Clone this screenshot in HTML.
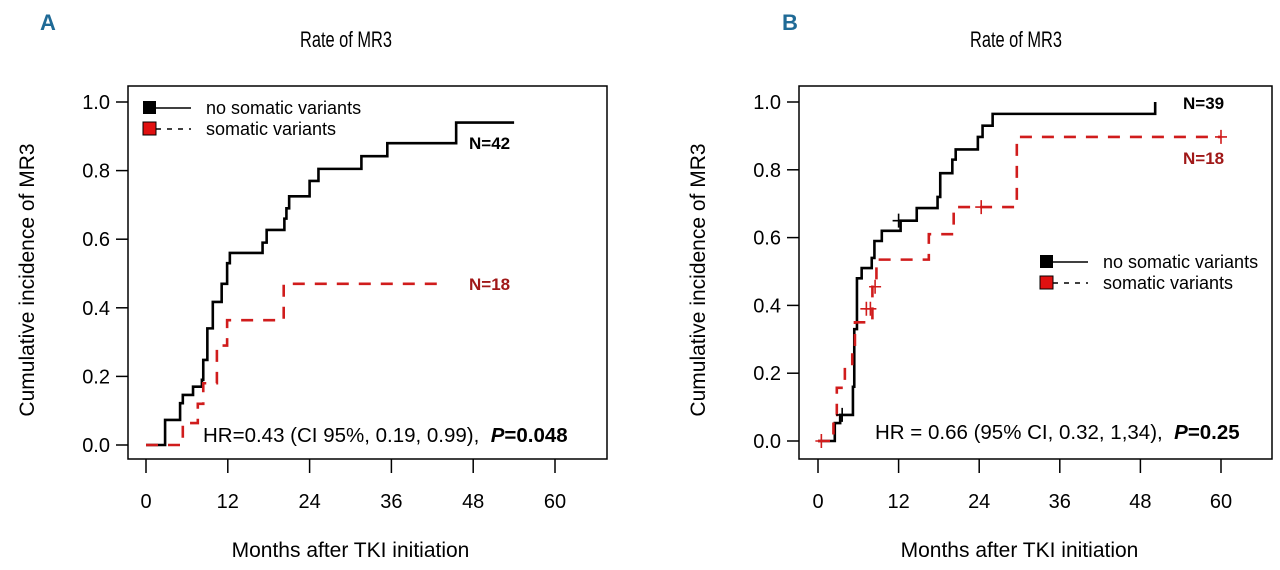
<!DOCTYPE html>
<html><head><meta charset="utf-8"><style>
body{margin:0;background:#fff;}
svg{display:block;font-family:"Liberation Sans",sans-serif;}
</style></head><body>
<svg id="fig" width="1280" height="570" viewBox="0 0 1280 570"></svg>
<script>
// Panel A data
const aBlackT=[0,2.8,5.0,5.4,6.9,8.2,8.4,9.0,9.8,11.1,11.9,12.3,17.1,17.7,20.3,20.6,21.0,24.0,25.3,31.6,35.4,45.5,54];
const aBlackV=[0,0.073,0.122,0.146,0.17,0.19,0.248,0.34,0.417,0.47,0.53,0.56,0.59,0.627,0.66,0.69,0.725,0.77,0.805,0.842,0.88,0.94,0.94];
const aRedT=[0,5.4,7.6,8.4,10.4,11.9,20.2,43.5];
const aRedV=[0,0.064,0.12,0.18,0.29,0.364,0.47,0.47];
// Panel B data
const bBlackT=[0,2.5,3.3,5.2,5.4,5.8,6.5,8.0,8.4,9.5,12.3,14.7,17.8,18.2,20.0,20.5,23.8,24.5,26.0,50.2];
const bBlackV=[0,0.053,0.077,0.16,0.33,0.48,0.51,0.54,0.59,0.62,0.65,0.687,0.72,0.79,0.83,0.86,0.897,0.93,0.965,1.0];
const bBlackCensorT=[3.6,12.0];
const bBlackCensorV=[0.077,0.65];
const bRedT=[0,2.3,2.8,4.0,5.1,5.5,8.1,8.7,16.5,20.2,29.6,60];
const bRedV=[0,0.077,0.157,0.22,0.28,0.35,0.455,0.535,0.61,0.69,0.897,0.897];
const bRedCensorT=[0.5,7.2,7.8,8.5,24.3,60];
const bRedCensorV=[0,0.39,0.39,0.455,0.69,0.897];
const xTicks=[0,12,24,36,48,60];
const yTicks=[0,0.2,0.4,0.6,0.8,1.0];

const NS="http://www.w3.org/2000/svg";
const svg=document.getElementById('fig');
function el(tag,attrs,parent){const e=document.createElementNS(NS,tag);for(const k in attrs)e.setAttribute(k,attrs[k]);(parent||svg).appendChild(e);return e;}
function txt(s,attrs,parent){const e=el('text',attrs,parent);e.textContent=s;return e;}

function panel(cfg){
  const g=el('g',{});
  
  
  const X=t=>cfg.x0+(t/60)*(cfg.x60-cfg.x0);
  const Y=v=>cfg.y0+v*(cfg.y1-cfg.y0);
  const box=el('rect',{x:cfg.bl,y:86,width:cfg.br-cfg.bl,height:459-86,fill:'none',stroke:'#000','stroke-width':1.5},g);
  
  
  xTicks.forEach(t=>{
    el('line',{x1:X(t),x2:X(t),y1:459,y2:473,stroke:'#000','stroke-width':1.5},g);
    const l=txt(String(t),{x:X(t),y:508,'font-size':20,'text-anchor':'middle'},g);
    
    
  });
  yTicks.forEach(v=>{
    el('line',{x1:cfg.bl-12,x2:cfg.bl,y1:Y(v),y2:Y(v),stroke:'#000','stroke-width':1.5},g);
    const l=txt(v.toFixed(1),{x:cfg.bl-18,y:Y(v)+7,'font-size':20,'text-anchor':'end'},g);
    
    
  });
  const xt=txt('Months after TKI initiation',{x:(cfg.x0+cfg.x60)/2,y:557,'font-size':21,'text-anchor':'middle'},g);
  
  
  const yx=cfg.bl-94;
  const yt=txt('Cumulative incidence of MR3',{x:yx,y:280,'font-size':21,'text-anchor':'middle',transform:`rotate(-90 ${yx} 280)`},g);
  
  
  const tt=txt('Rate of MR3',{x:cfg.titleX-46,y:47,'font-size':22,textLength:92,lengthAdjust:'spacingAndGlyphs'},g);
  
  
  const pl=txt(cfg.letter,{x:cfg.letterX,y:30,'font-size':22,'font-weight':'bold',fill:'#1f6a96'},g);
  
  
  function step(T,V,color,dash,name){
    let d=`M${X(T[0])},${Y(V[0])}`;
    for(let i=1;i<T.length;i++){d+=` H${X(T[i])} V${Y(V[i])}`;}
    const p=el('path',{d:d,fill:'none',stroke:color,'stroke-width':2.6,'stroke-dasharray':dash},g);
    
    
  }
  function censor(T,V,color,name){
    T.forEach((t,i)=>{
      const c=el('path',{d:`M${X(t)-6},${Y(V[i])} H${X(t)+6} M${X(t)},${Y(V[i])-7} V${Y(V[i])+7}`,stroke:color,'stroke-width':1.6},g);
      
      
    });
  }
  step(cfg.bT,cfg.bV,'#000','','no-variants-curve');
  step(cfg.rT,cfg.rV,'#d01c1c','12 10','variants-curve');
  if(cfg.bcT)censor(cfg.bcT,cfg.bcV,'#000','no-variants-censor');
  if(cfg.rcT)censor(cfg.rcT,cfg.rcV,'#d01c1c','variants-censor');
  const lg=el('g',{},g);
  
  
  const lx=cfg.legX,ly=cfg.legY;
  el('line',{x1:lx,x2:lx+48,y1:ly,y2:ly,stroke:'#000','stroke-width':1.5},lg);
  el('rect',{x:lx,y:ly-7,width:13,height:13,fill:'#000'},lg);
  txt('no somatic variants',{x:lx+63,y:ly+6,'font-size':18},lg);
  el('line',{x1:lx+13,x2:lx+48,y1:ly+21,y2:ly+21,stroke:'#000','stroke-width':1.5,'stroke-dasharray':'5 6'},lg);
  el('rect',{x:lx,y:ly+14,width:13,height:13,fill:'#e01010',stroke:'#000','stroke-width':1},lg);
  txt('somatic variants',{x:lx+63,y:ly+27,'font-size':18},lg);
  const n1=txt(cfg.n1,{x:cfg.n1x,y:cfg.n1y,'font-size':17,'font-weight':'bold'},g);
  
  
  const n2=txt(cfg.n2,{x:cfg.n2x,y:cfg.n2y,'font-size':17,'font-weight':'bold',fill:'#a01818'},g);
  
  
  const hr=el('text',{x:cfg.hrX,y:cfg.hrY,'font-size':20.5},g);
  
  
  hr.innerHTML=cfg.hr+'<tspan font-weight="bold" font-style="italic">P</tspan><tspan font-weight="bold">'+cfg.p+'</tspan>';
}
panel({name:'panel-a',letter:'A',letterX:40,titleX:346,x0:146,x60:555,y0:445,y1:102,bl:128,br:607,
 bT:aBlackT,bV:aBlackV,rT:aRedT,rV:aRedV,legX:143,legY:108,
 n1:'N=42',n1x:469,n1y:149,n2:'N=18',n2x:469,n2y:290,
 hrX:203,hrY:442,hr:'HR=0.43 (CI 95%, 0.19, 0.99),&#160;&#160;',p:'=0.048'});
panel({name:'panel-b',letter:'B',letterX:782,titleX:1016,x0:818,x60:1221,y0:441,y1:102,bl:799,br:1272,
 bT:bBlackT,bV:bBlackV,rT:bRedT,rV:bRedV,bcT:bBlackCensorT,bcV:bBlackCensorV,rcT:bRedCensorT,rcV:bRedCensorV,
 legX:1040,legY:262,n1:'N=39',n1x:1183,n1y:109,n2:'N=18',n2x:1183,n2y:164,
 hrX:875,hrY:439,hr:'HR = 0.66 (95% CI, 0.32, 1,34),&#160;&#160;',p:'=0.25'});
</script>
</body></html>
